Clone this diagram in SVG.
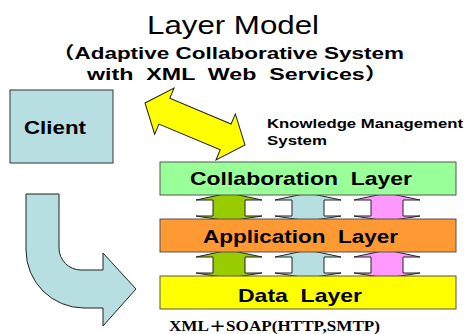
<svg xmlns="http://www.w3.org/2000/svg" width="468" height="334" viewBox="0 0 468 334">
<style>
text{font-family:"Liberation Sans",Arial,"Noto Sans CJK JP",sans-serif;fill:#000;white-space:pre}
.b{font-weight:bold}
.layer{stroke:#555;stroke-width:1}
.conn{stroke:#222;stroke-width:1;stroke-linejoin:miter}
</style>
<defs>
<path id="ud" d="M0,0 L33,7 L16,7 L16,23 L33,23 L0,28 L-33,23 L-16,23 L-16,7 L-33,7 Z"/>
</defs>
<rect width="468" height="334" fill="#fff"/>
<g id="title">
<text x="147" y="34" font-size="26" textLength="172" lengthAdjust="spacingAndGlyphs">Layer Model</text>
<text class="b" x="52" y="59" font-size="17" textLength="352" lengthAdjust="spacingAndGlyphs" xml:space="preserve">（Adaptive Collaborative System</text>
<text class="b" x="87" y="80" font-size="17" textLength="301" lengthAdjust="spacingAndGlyphs" xml:space="preserve">with  XML  Web  Services）</text>
</g>
<g id="connectors">
<g class="conn">
<use href="#ud" x="229" y="193" fill="#99CC00"/>
<use href="#ud" x="308" y="193" fill="#B7DEE1"/>
<use href="#ud" x="387" y="193" fill="#FF99FF"/>
<use href="#ud" x="229" y="250" fill="#99CC00"/>
<use href="#ud" x="308" y="250" fill="#B7DEE1"/>
<use href="#ud" x="387" y="250" fill="#FF99FF"/>
<path fill="#FFFF00" transform="translate(145,103) rotate(22.8)" d="M0,0 L21,-25 L21,-14 L87.5,-14 L87.5,-25 L108.5,0 L87.5,25 L87.5,14 L21,14 L21,25 Z"/>
<path fill="#B7DEE1" d="M26,194 H59 V248 A22,22 0 0 0 81,270 H103 V253 L136,289 L103,326 V308 H84 A58,58 0 0 1 26,250 Z"/>
</g>
</g>
<g id="client">
<rect x="10" y="90" width="103" height="73" fill="#B7DEE1" stroke="#333" stroke-width="1"/>
<text class="b" x="24" y="134" font-size="17.5" textLength="62" lengthAdjust="spacingAndGlyphs">Client</text>
</g>
<g id="kms">
<text class="b" x="267" y="128" font-size="13" textLength="196" lengthAdjust="spacingAndGlyphs">Knowledge Management</text>
<text class="b" x="267" y="145" font-size="13" textLength="60" lengthAdjust="spacingAndGlyphs">System</text>
</g>
<g id="collaboration">
<rect class="layer" x="160" y="162" width="296" height="33" fill="#99FF99"/>
<text class="b" x="190" y="185" font-size="19" textLength="222" lengthAdjust="spacingAndGlyphs" xml:space="preserve">Collaboration  Layer</text>
</g>
<g id="application">
<rect class="layer" x="160" y="219" width="296" height="33" fill="#FF9933"/>
<text class="b" x="203" y="243" font-size="19" textLength="195" lengthAdjust="spacingAndGlyphs" xml:space="preserve">Application  Layer</text>
</g>
<g id="data">
<rect class="layer" x="160" y="276" width="296" height="33" fill="#FFFF00"/>
<text class="b" x="238" y="302" font-size="19" textLength="124" lengthAdjust="spacingAndGlyphs" xml:space="preserve">Data  Layer</text>
</g>
<g id="protocol">
<text class="b" x="169" y="331" font-size="14" textLength="211" lengthAdjust="spacingAndGlyphs" style="font-family:'Liberation Serif','Times New Roman','Noto Sans CJK JP',serif">XML＋SOAP(HTTP,SMTP)</text>
</g>
</svg>
